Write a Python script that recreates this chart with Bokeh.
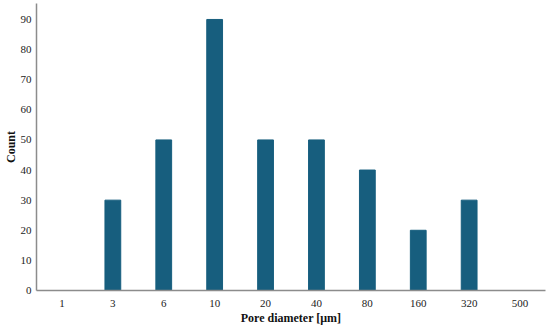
from bokeh.plotting import figure
from bokeh.models import FactorRange, Range1d, FixedTicker
from bokeh.embed import file_html
from bokeh.resources import INLINE

categories = ["1", "3", "6", "10", "20", "40", "80", "160", "320", "500"]
counts = [0, 30, 50, 90, 50, 50, 40, 20, 30, 0]
y_ticks = [0, 10, 20, 30, 40, 50, 60, 70, 80, 90]

p = figure(x_range=FactorRange(*categories, range_padding=0),
           y_range=Range1d(0, 95.3),
           width=550, height=329, output_backend="svg", toolbar_location=None,
           min_border_left=36, min_border_right=5, min_border_top=3, min_border_bottom=39)

p.vbar(x=categories, top=counts, width=0.31, color="#175E7E")

p.outline_line_color = None
p.xgrid.grid_line_color = None
p.ygrid.grid_line_color = None
p.background_fill_color = "white"
p.border_fill_color = "white"

p.yaxis.ticker = FixedTicker(ticks=y_ticks)
for ax in (p.xaxis[0], p.yaxis[0]):
    ax.axis_line_color = "#8c8c8c"
    ax.axis_line_width = 1.5
    ax.major_tick_line_color = None
    ax.minor_tick_line_color = None
    ax.major_tick_out = 0
    ax.major_tick_in = 0
    ax.minor_tick_out = 0
    ax.minor_tick_in = 0
    ax.major_label_text_font = "Liberation Serif"
    ax.major_label_text_font_size = "11px"
    ax.major_label_text_color = "#222222"
    ax.axis_label_text_font = "Liberation Serif"
    ax.axis_label_text_font_size = "12px"
    ax.axis_label_text_font_style = "bold"
    ax.axis_label_text_color = "#111111"

p.xaxis.axis_label = "Pore diameter [μm]"
p.yaxis.axis_label = "Count"
p.xaxis.major_label_standoff = 9
p.xaxis.axis_label_standoff = 1
p.yaxis.major_label_standoff = 5
p.yaxis.axis_label_standoff = 0

open("out.html", "w").write(file_html(p, INLINE))
